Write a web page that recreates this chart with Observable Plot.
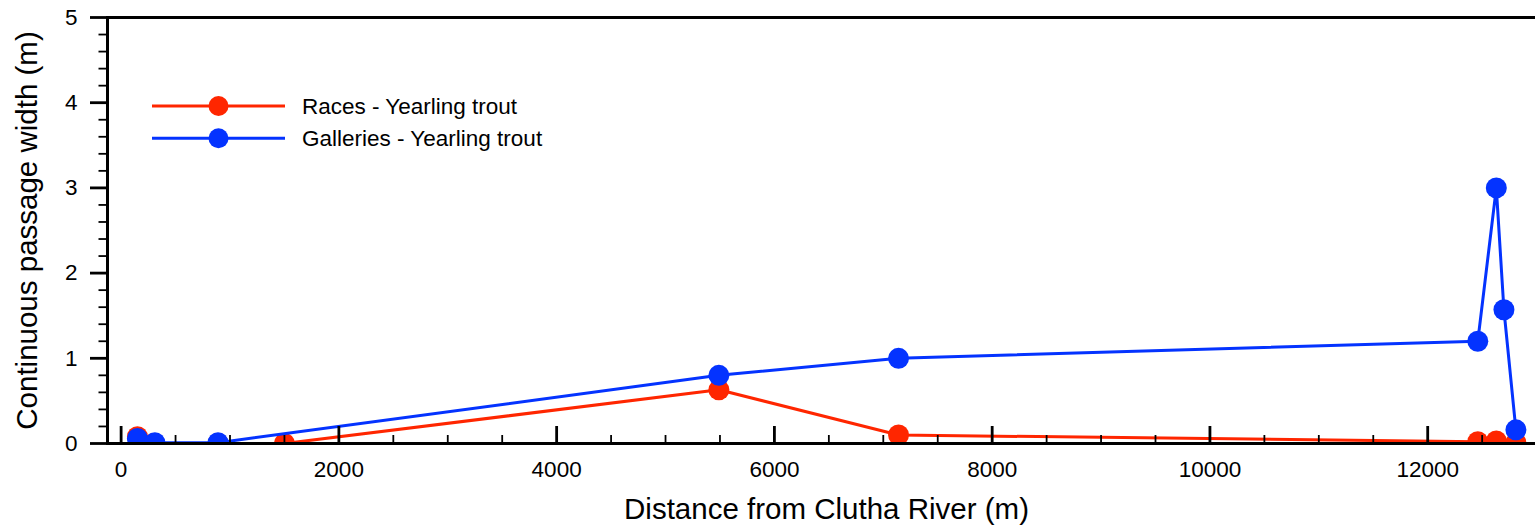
<!DOCTYPE html>
<html><head><meta charset="utf-8">
<script src="https://cdn.jsdelivr.net/npm/d3@7"></script>
<script src="https://cdn.jsdelivr.net/npm/@observablehq/plot@0.6"></script>
<style>
html,body{margin:0;padding:0;background:#fff;}
#wrap{position:relative;width:1535px;height:528px;font-family:"Liberation Sans",Arial,Helvetica,sans-serif;}
#legend{position:absolute;left:0;top:0;}
</style></head><body>
<div id="wrap"></div>
<script>
// Data
const racesX = [150, 300, 890, 1500, 5490, 7140, 12460, 12630, 12810];
const racesY = [0.08, 0, 0, 0, 0.63, 0.1, 0.02, 0.03, 0.01];
const galleriesX = [150, 310, 890, 5490, 7140, 12460, 12630, 12700, 12810];
const galleriesY = [0.06, 0.01, 0.01, 0.8, 1.0, 1.2, 3.0, 1.57, 0.16];
const seriesNames = ["Races - Yearling trout", "Galleries - Yearling trout"];
const seriesColors = ["#ff2600", "#0433ff"];
const xMajorTicks = [0, 2000, 4000, 6000, 8000, 10000, 12000];
const xMinorTicks = [500, 1000, 1500, 2500, 3000, 3500, 4500, 5000, 5500, 6500, 7000, 7500, 8500, 9000, 9500, 10500, 11000, 11500, 12500];
const yMajorTicks = [0, 1, 2, 3, 4, 5];
const yMinorTicks = [0.2, 0.4, 0.6, 0.8, 1.2, 1.4, 1.6, 1.8, 2.2, 2.4, 2.6, 2.8, 3.2, 3.4, 3.6, 3.8, 4.2, 4.4, 4.6, 4.8];
const xLabel = "Distance from Clutha River (m)";
const yLabel = "Continuous passage width (m)";

const races = racesX.map((x, i) => ({x, y: racesY[i]}));
const galleries = galleriesX.map((x, i) => ({x, y: galleriesY[i]}));

const chart = Plot.plot({
  width: 1535,
  height: 528,
  marginLeft: 107,
  marginRight: 0,
  marginTop: 17,
  marginBottom: 85,
  style: {fontFamily: '"Liberation Sans", Arial, Helvetica, sans-serif', background: "white", color: "black"},
  x: {domain: [-125, 12990]},
  y: {domain: [0, 5]},
  marks: [
    Plot.lineY(races, {x: "x", y: "y", stroke: seriesColors[0], strokeWidth: 3}),
    Plot.dot(races, {x: "x", y: "y", r: 10.5, fill: seriesColors[0], clip: true}),
    Plot.lineY(galleries, {x: "x", y: "y", stroke: seriesColors[1], strokeWidth: 3}),
    Plot.dot(galleries, {x: "x", y: "y", r: 10.5, fill: seriesColors[1], clip: true}),
    Plot.axisY({ticks: yMajorTicks, tickSize: 17, tickPadding: 13, fontSize: 22.5, strokeWidth: 2.8, label: null, tickFormat: d => String(d)}),
    Plot.axisY({ticks: yMinorTicks, tickSize: 8.5, strokeWidth: 1.8, text: null, label: null}),
    Plot.axisX({ticks: xMajorTicks, tickSize: 0, tickPadding: 18, fontSize: 22.5, label: null, tickFormat: d => String(d)}),
    Plot.ruleX(xMajorTicks, {x: d => d, y1: 0, y2: 0, insetBottom: 17, strokeWidth: 2.8}),
    Plot.ruleX(xMinorTicks, {x: d => d, y1: 0, y2: 0, insetBottom: 8, strokeWidth: 1.8}),
    Plot.frame({anchor: "left", strokeWidth: 3}),
    Plot.frame({anchor: "top", strokeWidth: 3}),
    Plot.frame({anchor: "bottom", strokeWidth: 3}),
    Plot.text([xLabel], {frameAnchor: "bottom", lineAnchor: "top", textAnchor: "middle", dy: 55, dx: 5, fontSize: 29.5}),
    Plot.text([yLabel], {frameAnchor: "left", rotate: -90, lineAnchor: "top", textAnchor: "middle", dx: -91, fontSize: 29.5})
  ]
});
const wrap = document.getElementById("wrap");
wrap.appendChild(chart);

// Legend (inside plot area, top-left)
const ns = "http://www.w3.org/2000/svg";
const leg = document.createElementNS(ns, "svg");
leg.setAttribute("id", "legend");
leg.setAttribute("width", 600);
leg.setAttribute("height", 170);
const rows = [106, 138.3];
seriesNames.forEach((name, i) => {
  const y = rows[i];
  const line = document.createElementNS(ns, "line");
  line.setAttribute("x1", 152); line.setAttribute("x2", 285);
  line.setAttribute("y1", y); line.setAttribute("y2", y);
  line.setAttribute("stroke", seriesColors[i]); line.setAttribute("stroke-width", 3);
  leg.appendChild(line);
  const c = document.createElementNS(ns, "circle");
  c.setAttribute("cx", 218.5); c.setAttribute("cy", y); c.setAttribute("r", 10);
  c.setAttribute("fill", seriesColors[i]);
  leg.appendChild(c);
  const t = document.createElementNS(ns, "text");
  t.setAttribute("x", 302); t.setAttribute("y", y + 8);
  t.setAttribute("font-size", 22.5);
  t.setAttribute("font-family", '"Liberation Sans", Arial, Helvetica, sans-serif');
  t.setAttribute("fill", "black");
  t.textContent = name;
  leg.appendChild(t);
});
wrap.appendChild(leg);
</script>
</body></html>
